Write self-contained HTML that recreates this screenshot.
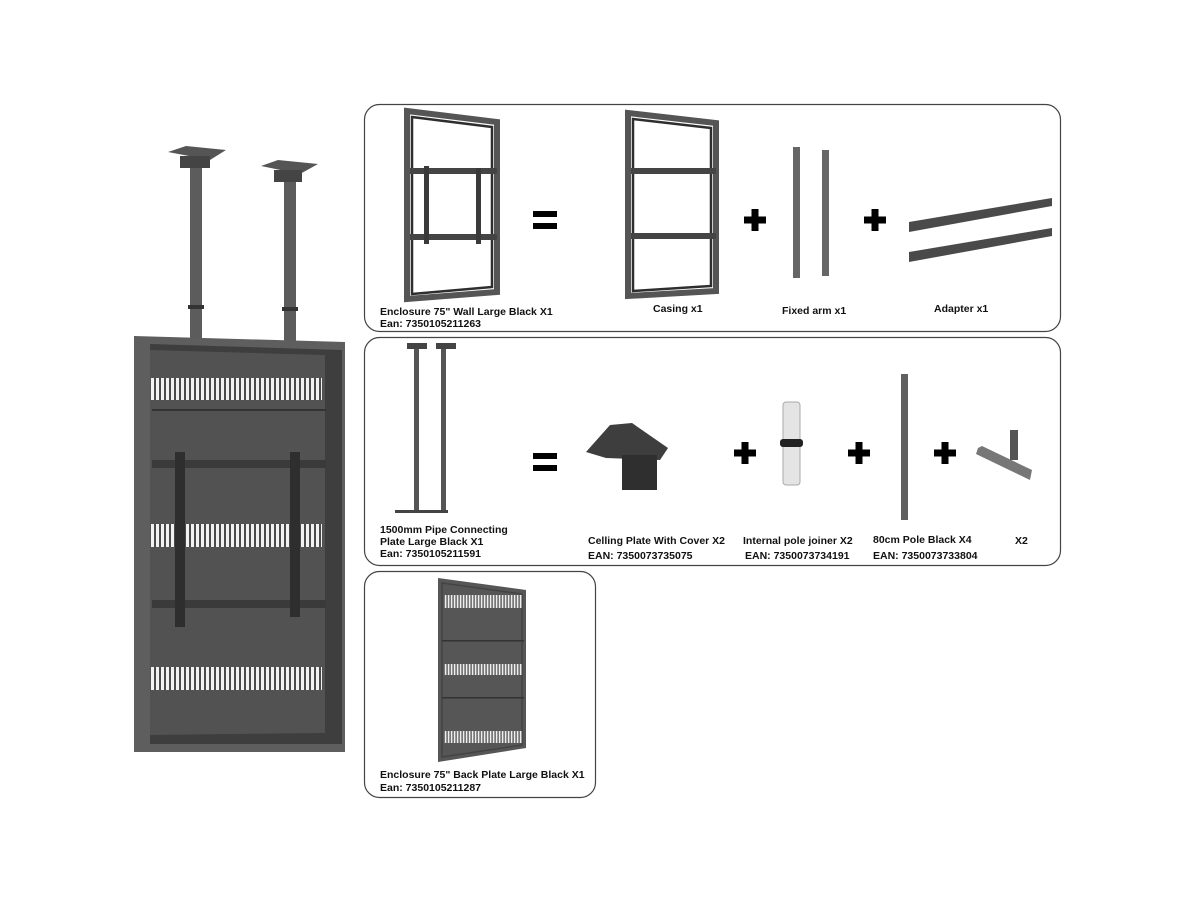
<!DOCTYPE html>
<html><head><meta charset="utf-8"><style>
html,body{margin:0;padding:0;background:#fff;width:1200px;height:900px;overflow:hidden}
svg{display:block}
text{font-family:"Liberation Sans",Arial,sans-serif;font-weight:bold;font-size:10.5px;fill:#111}
</style></head><body>
<svg width="1200" height="900" viewBox="0 0 1200 900" xmlns="http://www.w3.org/2000/svg">
<defs>
<pattern id="vent" width="5" height="30" patternUnits="userSpaceOnUse"><rect width="5" height="30" fill="#4a4a4a"/><rect x="1" width="3" height="30" fill="#f2f2f2"/></pattern>
<pattern id="vent2" width="3" height="30" patternUnits="userSpaceOnUse"><rect width="3" height="30" fill="#5a5a5a"/><rect x="0.8" width="1.6" height="30" fill="#eee"/></pattern>
<g id="plus"><rect x="-11" y="-3.5" width="22" height="7" fill="#000"/><rect x="-3.5" y="-11" width="7" height="22" fill="#000"/></g>
<g id="eq"><rect x="-12" y="-9" width="24" height="6" fill="#000"/><rect x="-12" y="3" width="24" height="6" fill="#000"/></g>
</defs>
<rect width="1200" height="900" fill="#fff"/>

<!-- LEFT ENCLOSURE -->
<rect x="190" y="160" width="12" height="180" fill="#5c5c5c"/>
<rect x="284" y="172" width="12" height="170" fill="#5c5c5c"/>
<polygon points="168,152 186,146 226,150 210,160" fill="#555"/>
<rect x="180" y="156" width="30" height="12" fill="#444"/>
<polygon points="261,166 278,160 318,164 300,174" fill="#555"/>
<rect x="274" y="170" width="28" height="12" fill="#444"/>
<rect x="188" y="305" width="16" height="4" fill="#333"/>
<rect x="282" y="307" width="16" height="4" fill="#333"/>
<polygon points="134,336 345,342 345,752 134,752" fill="#5e5e5e"/>
<polygon points="150,344 342,350 342,744 150,744" fill="#3e3e3e"/>
<polygon points="150,350 325,355 325,733 150,735" fill="#525252"/>
<rect x="151" y="378" width="171" height="22" fill="url(#vent)"/>
<rect x="151" y="524" width="171" height="23" fill="url(#vent)"/>
<rect x="151" y="667" width="171" height="23" fill="url(#vent)"/>
<rect x="152" y="409" width="174" height="2" fill="#333"/>
<rect x="152" y="460" width="174" height="8" fill="#3a3a3a"/>
<rect x="152" y="600" width="174" height="8" fill="#3a3a3a"/>
<rect x="175" y="452" width="10" height="175" fill="#2e2e2e"/>
<rect x="290" y="452" width="10" height="165" fill="#2e2e2e"/>

<!-- BOXES -->
<rect x="364.5" y="104.5" width="696" height="227" rx="15" fill="none" stroke="#444" stroke-width="1.2"/>
<rect x="364.5" y="337.5" width="696" height="228" rx="15" fill="none" stroke="#444" stroke-width="1.2"/>
<rect x="364.5" y="571.5" width="231" height="226" rx="15" fill="none" stroke="#444" stroke-width="1.2"/>

<!-- TOP -->
<g fill="none" stroke="#555" stroke-width="6">
<polygon points="407,111 497,122 497,292 407,299"/>
<polygon points="628,113 716,123 716,291 628,296"/>
</g>
<g fill="none" stroke="#2e2e2e" stroke-width="2.5">
<polygon points="412,117 492,127 492,287 412,294"/>
<polygon points="633,119 711,128 711,286 633,291"/>
</g>
<rect x="410" y="168" width="87" height="6" fill="#444"/>
<rect x="410" y="234" width="87" height="6" fill="#444"/>
<rect x="424" y="166" width="5" height="78" fill="#3a3a3a"/>
<rect x="476" y="168" width="5" height="76" fill="#3a3a3a"/>
<rect x="631" y="168" width="85" height="6" fill="#444"/>
<rect x="631" y="233" width="85" height="6" fill="#444"/>
<use href="#eq" x="545" y="220"/>
<use href="#plus" x="755" y="220"/>
<use href="#plus" x="875" y="220"/>
<rect x="793" y="147" width="7" height="131" fill="#666"/>
<rect x="822" y="150" width="7" height="126" fill="#666"/>
<polygon points="909,222 1052,198 1052,206 909,232" fill="#4a4a4a"/>
<polygon points="909,252 1052,228 1052,236 909,262" fill="#4a4a4a"/>
<text x="380" y="315">Enclosure 75" Wall Large Black X1</text>
<text x="380" y="327">Ean: 7350105211263</text>
<text x="653" y="312">Casing x1</text>
<text x="782" y="314">Fixed arm x1</text>
<text x="934" y="312">Adapter x1</text>

<!-- MIDDLE -->
<rect x="414" y="345" width="5" height="165" fill="#555"/>
<rect x="441" y="345" width="5" height="165" fill="#555"/>
<rect x="407" y="343" width="20" height="6" fill="#444"/>
<rect x="436" y="343" width="20" height="6" fill="#444"/>
<rect x="395" y="510" width="30" height="3" fill="#444"/>
<rect x="418" y="510" width="30" height="3" fill="#444"/>
<use href="#eq" x="545" y="462"/>
<polygon points="586,452 610,425 632,423 668,448 660,460 606,458" fill="#3e3e3e"/>
<rect x="622" y="455" width="35" height="35" fill="#2f2f2f"/>
<use href="#plus" x="745" y="453"/>
<rect x="783" y="402" width="17" height="83" rx="3" fill="#e4e4e4" stroke="#aaa"/>
<rect x="780" y="439" width="23" height="8" rx="3" fill="#222"/>
<use href="#plus" x="859" y="453"/>
<rect x="901" y="374" width="7" height="146" fill="#606060"/>
<use href="#plus" x="945" y="453"/>
<polygon points="978,448 982,446 1032,470 1030,480 976,454" fill="#777"/>
<rect x="1010" y="430" width="8" height="30" fill="#555"/>
<text x="380" y="533">1500mm Pipe Connecting</text>
<text x="380" y="545">Plate Large Black X1</text>
<text x="380" y="557">Ean: 7350105211591</text>
<text x="588" y="544">Celling Plate With Cover X2</text>
<text x="588" y="559">EAN: 7350073735075</text>
<text x="743" y="544">Internal pole joiner X2</text>
<text x="745" y="559">EAN: 7350073734191</text>
<text x="873" y="543">80cm Pole Black X4</text>
<text x="873" y="559">EAN: 7350073733804</text>
<text x="1015" y="544">X2</text>

<!-- BOTTOM -->
<polygon points="438,578 526,590 526,748 438,762" fill="#565656"/>
<polygon points="442,583 522,594 522,745 442,757" fill="none" stroke="#444" stroke-width="1.5"/>
<rect x="444" y="595" width="78" height="13" fill="url(#vent2)"/>
<rect x="444" y="664" width="78" height="11" fill="url(#vent2)"/>
<rect x="444" y="731" width="78" height="12" fill="url(#vent2)"/>
<rect x="442" y="640" width="82" height="1.5" fill="#333"/>
<rect x="442" y="697" width="82" height="1.5" fill="#333"/>
<text x="380" y="778">Enclosure 75" Back Plate Large Black X1</text>
<text x="380" y="791">Ean: 7350105211287</text>
</svg>
</body></html>
